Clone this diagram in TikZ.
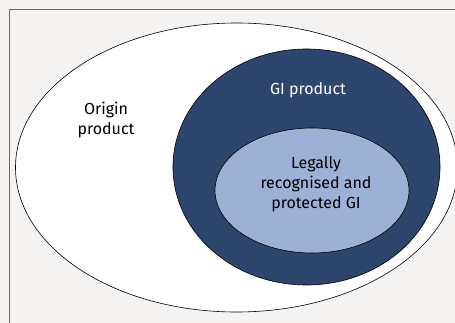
\documentclass[tikz,border=0pt]{standalone}
\usepackage{fontspec}
\setmainfont{Fira Sans}
\usetikzlibrary{shapes.geometric}

\definecolor{paper}{HTML}{F4F3F1}
\definecolor{framegray}{HTML}{6A6A6A}
\definecolor{ginavy}{HTML}{2E456D}
\definecolor{gilight}{HTML}{9DB1D7}

\tikzset{
    venn/.style={ellipse, draw=black, line width=.6pt, inner sep=0pt},
    setlabel/.style={align=center, font=\fontsize{16}{20}\selectfont, inner sep=0pt}
}

\begin{document}
\begin{tikzpicture}[x=1pt,y=-1pt]

    \useasboundingbox (0,0) rectangle (455,323);
    \fill[paper] (0,0) rectangle (455,323);
    \clip (0,0) rectangle (455,323);
    \draw[framegray, line width=.8pt] (9,330) -- (9,9) -- (460,9);

    % nested sets
    \node[venn, fill=white, minimum width=442pt, minimum height=289pt] (origin) at (236.5,167.5) {};
    \node[venn, fill=ginavy, minimum width=267pt, minimum height=236pt] (giprod) at (306.5,167) {};
    \node[venn, fill=gilight, minimum width=194pt, minimum height=125pt] (legal) at (312,190.5) {};

    % labels
    \node[setlabel] (originlbl) at (106,120) {Origin\\product};
    \node[setlabel, text=white] (giprodlbl) at (308,90) {GI product};
    \node[setlabel] (legallbl) at (316,184) {Legally\\recognised and\\protected GI};

\end{tikzpicture}
\end{document}
